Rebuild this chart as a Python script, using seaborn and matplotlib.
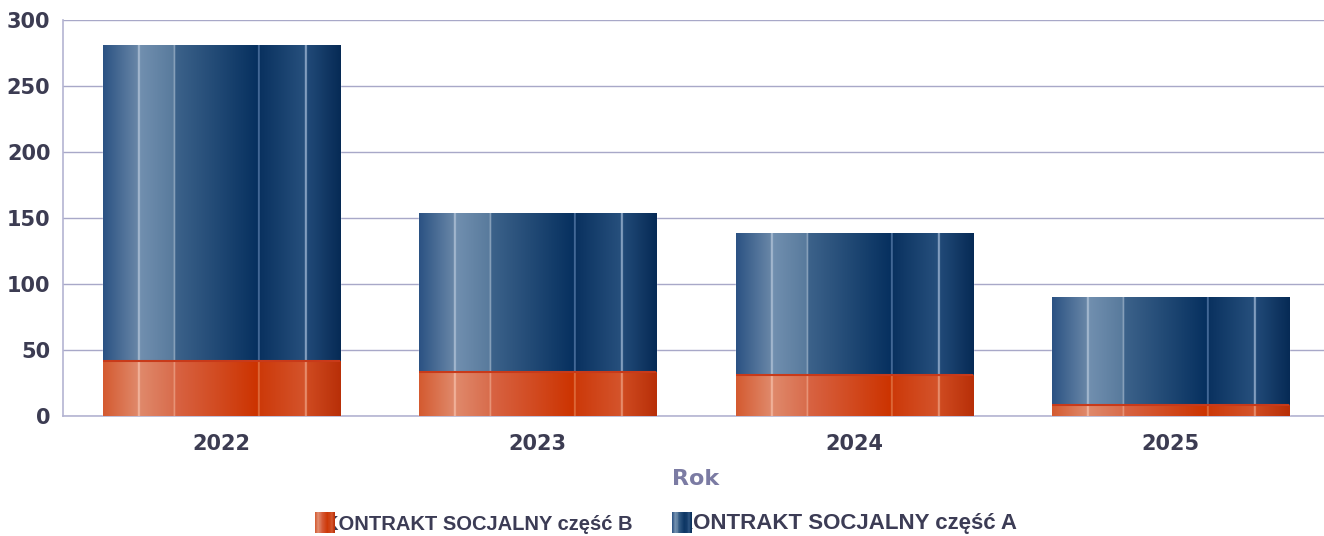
import numpy as np
import pandas as pd
import matplotlib
matplotlib.use("Agg")
import matplotlib.pyplot as plt
import matplotlib.colors as mcolors
import seaborn as sns

# ---- data ----
years = ["2022", "2023", "2024", "2025"]
part_b = [42, 33, 31, 8]          # KONTRAKT SOCJALNY część B (bottom)
part_a = [239, 121, 108, 82]      # KONTRAKT SOCJALNY część A (top)
label_b = "KONTRAKT SOCJALNY część B"
label_a = "KONTRAKT SOCJALNY część A"
y_ticks = [0, 50, 100, 150, 200, 250, 300]

totals = [a + b for a, b in zip(part_a, part_b)]
df = pd.DataFrame({"Rok": years, "B": part_b, "Total": totals})

sns.set_theme(style="white")
plt.rcParams['font.family'] = ['DejaVu Sans']

W, H = 1324, 536
fig = plt.figure(figsize=(W / 100, H / 100), dpi=100)
ax = fig.add_axes([63 / W, 1 - 416 / H, (1329 - 63) / W, (416 - 20) / H])

# gradient builders
def build_gradient(stops, lines, n=600):
    xs = np.linspace(0, 1, n)
    img = np.zeros((1, n, 3))
    for seg in stops:
        x0, c0, x1, c1 = seg
        m = (xs >= x0) & (xs <= x1)
        t = (xs[m] - x0) / max(x1 - x0, 1e-9)
        c0 = np.array(mcolors.to_rgb(c0)); c1 = np.array(mcolors.to_rgb(c1))
        img[0, m, :] = c0[None, :] * (1 - t[:, None]) + c1[None, :] * t[:, None]
    for lx, lc, w in lines:
        m = np.abs(xs - lx) <= w / 2
        img[0, m, :] = np.array(mcolors.to_rgb(lc))
    return img

blue_img = build_gradient(
    [(0.00, "#2b5283", 0.15, "#6a88a8"),
     (0.15, "#7290b0", 0.30, "#587a9c"),
     (0.30, "#3d638b", 0.65, "#06305f"),
     (0.65, "#08305e", 0.85, "#27507d"),
     (0.85, "#234c7a", 1.00, "#062a55")],
    [(0.15, "#a6bad0", 0.008), (0.30, "#8aa2bc", 0.007),
     (0.655, "#4e73a0", 0.007), (0.853, "#8aa4c4", 0.008)])
orange_img = build_gradient(
    [(0.00, "#d45a30", 0.15, "#e08a6c"),
     (0.15, "#e08a6c", 0.30, "#d86c4c"),
     (0.30, "#d86444", 0.65, "#cc3300"),
     (0.65, "#cc3808", 0.85, "#d4542c"),
     (0.85, "#d04c22", 1.00, "#b82f08")],
    [(0.15, "#f2b49c", 0.008), (0.30, "#e8967a", 0.007),
     (0.655, "#e07040", 0.007), (0.853, "#e89070", 0.008)])

# stacked bars via seaborn: total (A on top of B) then B
sns.barplot(data=df, x="Rok", y="Total", color="#0a3060", width=0.75,
            ax=ax, saturation=1, zorder=2)
n_tot = len(ax.patches)
sns.barplot(data=df, x="Rok", y="B", color="#cc3300", width=0.75,
            ax=ax, saturation=1, zorder=3)

ax.set_xlim(-0.5, 3.5)
ax.set_ylim(0, 300)

for i, p in enumerate(ax.patches):
    x0, y0 = p.get_x(), p.get_y()
    w, h = p.get_width(), p.get_height()
    img = blue_img if i < n_tot else orange_img
    z = 2.5 if i < n_tot else 3.5
    im = ax.imshow(img, extent=(x0, x0 + w, y0, y0 + h), aspect="auto",
                   interpolation="bilinear", zorder=z)
    im.set_clip_path(p)
    if i >= n_tot:
        ax.plot([x0, x0 + w], [y0 + h, y0 + h], color="#c83a1a", lw=1.5,
                zorder=3.6, solid_capstyle="butt")

ax.set_yticks(y_ticks)
ax.yaxis.grid(True, color="#a8a8c8", lw=1)
ax.set_axisbelow(True)
for s in ["top", "right"]:
    ax.spines[s].set_visible(False)
for s in ["left", "bottom"]:
    ax.spines[s].set_color("#b4b4d2")
    ax.spines[s].set_linewidth(1.2)
ax.tick_params(axis="both", length=0)
ax.tick_params(axis="y", pad=9, labelsize=15, labelcolor="#3c3c52")
ax.tick_params(axis="x", pad=13, labelsize=15, labelcolor="#3c3c52")
for t in ax.get_yticklabels() + ax.get_xticklabels():
    t.set_fontweight("bold")
ax.set_ylabel("")
ax.set_xlabel("Rok", fontsize=16, fontweight="bold", color="#7b7ba3", labelpad=11)

# legend at bottom (swatch overlaps first letter like reference)
leg_font = dict(fontweight="bold", color="#3c3c55",
                family=["Liberation Sans", "DejaVu Sans"])
fig.text(324 / W, 1 - 524 / H, label_b, ha="left", va="center",
         fontsize=14.5, **leg_font)
fig.text(677 / W, 1 - 524 / H, label_a, ha="left", va="center",
         fontsize=16, **leg_font)
for sx, img in [(315, orange_img), (672, blue_img)]:
    sax = fig.add_axes([sx / W, 1 - 533 / H, 20 / W, 21 / H], zorder=10)
    sax.imshow(img, aspect="auto", interpolation="bilinear")
    sax.set_axis_off()

fig.savefig("out.png", dpi=100)
